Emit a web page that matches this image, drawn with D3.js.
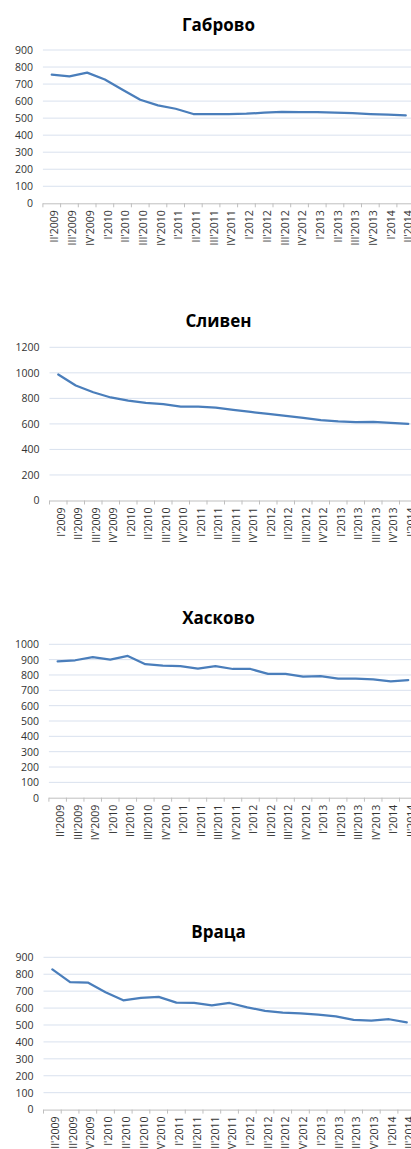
<!DOCTYPE html>
<html>
<head>
<meta charset="utf-8">
<script src="https://cdn.jsdelivr.net/npm/d3@7"></script>
<style>
  html, body { margin: 0; padding: 0; background: #fff; }
  svg { display: block; }
</style>
</head>
<body>
<svg id="chart" width="411" height="1149"></svg>
<script>
// ---- DATA ----
const catsII = ["II'2009","III'2009","IV'2009","I'2010","II'2010","III'2010","IV'2010","I'2011","II'2011","III'2011","IV'2011","I'2012","II'2012","III'2012","IV'2012","I'2013","II'2013","III'2013","IV'2013","I'2014","II'2014"];
const catsI = ["I'2009","II'2009","III'2009","IV'2009","I'2010","II'2010","III'2010","IV'2010","I'2011","II'2011","III'2011","IV'2011","I'2012","II'2012","III'2012","IV'2012","I'2013","II'2013","III'2013","IV'2013","I'2014"];

const gabrovo = [755,745,767,727,667,608,575,555,524,524,524,526,532,537,535,535,532,530,524,520,516];
const sliven  = [987,901,848,807,783,765,754,736,736,728,710,694,678,663,647,629,619,614,616,608,600];
const haskovo = [889,896,917,900,924,870,861,857,841,857,839,839,807,807,789,793,776,776,772,759,767];
const vratsa  = [829,753,751,694,646,660,666,632,630,616,630,604,584,573,569,561,551,530,526,534,516];

const ticks900  = [0,100,200,300,400,500,600,700,800,900];
const ticks1200 = [0,200,400,600,800,1000,1200];
const ticks1000 = [0,100,200,300,400,500,600,700,800,900,1000];

const titles = ["Габрово","Сливен","Хасково","Враца"];

// ---- LAYOUT ----
const panels = [
  {title: titles[0], cats: catsII, vals: gabrovo, ticks: ticks900,  max: 900,  top: 50.0,  bottom: 203.3, left: 42.9, step: 17.7,  titleY: 25},
  {title: titles[1], cats: catsI,  vals: sliven,  ticks: ticks1200, max: 1200, top: 347.3, bottom: 500.5, left: 49.5, step: 17.5,  titleY: 321},
  {title: titles[2], cats: catsII, vals: haskovo, ticks: ticks1000, max: 1000, top: 644.3, bottom: 797.7, left: 48.9, step: 17.53, titleY: 617.7},
  {title: titles[3], cats: catsII, vals: vratsa,  ticks: ticks900,  max: 900,  top: 957.3, bottom: 1109.6,left: 43.5, step: 17.72, titleY: 931.7}
];

const svg = d3.select("#chart");
svg.append("rect").attr("width", 411).attr("height", 1149).attr("fill", "#fff");

const FONT = "'Open Sans', 'DejaVu Sans', sans-serif";

panels.forEach(p => {
  const g = svg.append("g");
  const right = p.left + p.step * p.cats.length;
  const x = d3.scaleBand().domain(p.cats).range([p.left, right]).padding(0);
  const y = d3.scaleLinear().domain([0, p.max]).range([p.bottom, p.top]);

  // title
  g.append("text")
    .attr("x", 218.5).attr("y", p.titleY)
    .attr("dy", "0.35em")
    .attr("text-anchor", "middle")
    .attr("font-family", FONT)
    .attr("font-weight", "bold")
    .attr("font-size", "17px")
    .attr("fill", "#000")
    .text(p.title);

  // gridlines
  g.append("g").selectAll("line")
    .data(p.ticks.filter(t => t > 0))
    .join("line")
    .attr("x1", p.left).attr("x2", right)
    .attr("y1", d => y(d)).attr("y2", d => y(d))
    .attr("stroke", "#d9e1ee").attr("stroke-width", 1);

  // y axis labels
  const yAxis = d3.axisLeft(y).tickValues(p.ticks).tickFormat(d3.format("d")).tickSize(0).tickPadding(10);
  const ya = g.append("g").attr("transform", `translate(${p.left},0)`).call(yAxis);
  ya.select(".domain").remove();
  ya.selectAll("text")
    .attr("font-family", FONT).attr("font-size", "10.5px").attr("fill", "#333");

  // x axis
  const xAxis = d3.axisBottom(x).tickSize(0).tickPadding(0);
  const xa = g.append("g").attr("transform", `translate(0,${p.bottom})`).call(xAxis);
  xa.select(".domain").attr("stroke", "#bfbfbf").attr("d", `M${p.left},0.5H${right}`);
  xa.selectAll(".tick text")
    .attr("font-family", FONT).attr("font-size", "10.5px").attr("fill", "#333")
    .attr("text-anchor", "end")
    .attr("transform", "translate(3,7) rotate(-90)")
    .attr("x", 0).attr("y", 0).attr("dy", "0.35em");
  // boundary tick marks
  const bounds = d3.range(p.cats.length + 1).map(i => p.left + i * p.step);
  g.append("g").selectAll("line")
    .data(bounds)
    .join("line")
    .attr("x1", d => d).attr("x2", d => d)
    .attr("y1", p.bottom).attr("y2", p.bottom + 4)
    .attr("stroke", "#bfbfbf").attr("stroke-width", 1);

  // line
  const line = d3.line()
    .x((d, i) => x(p.cats[i]) + x.bandwidth() / 2)
    .y(d => y(d));
  g.append("path")
    .datum(p.vals)
    .attr("d", line)
    .attr("fill", "none")
    .attr("stroke", "#4a7ebb")
    .attr("stroke-width", 2.25)
    .attr("stroke-linejoin", "round")
    .attr("stroke-linecap", "round");
});
</script>
</body>
</html>
